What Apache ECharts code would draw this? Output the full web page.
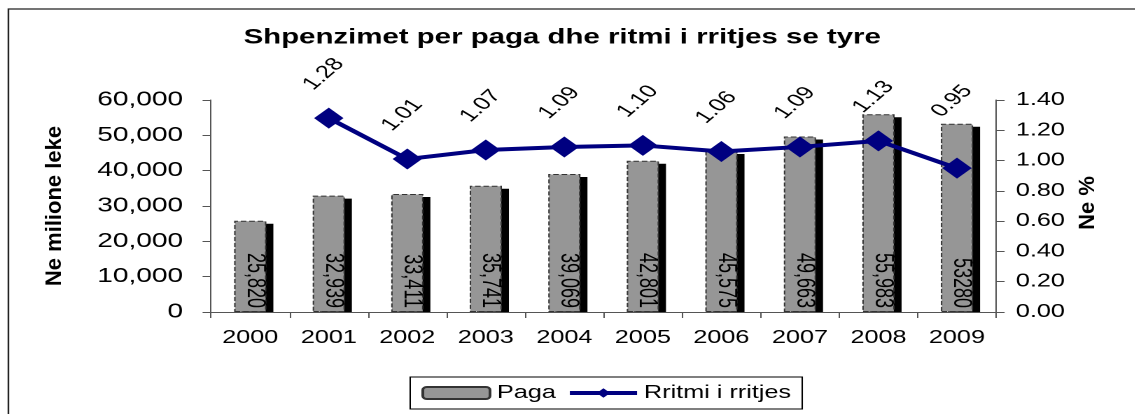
<!DOCTYPE html>
<html>
<head>
<meta charset="utf-8">
<script src="https://cdn.jsdelivr.net/npm/echarts@6/dist/echarts.min.js"></script>
<style>
    html, body { margin: 0; padding: 0; background: #fff; overflow: hidden; }
    /* the source picture is stretched sideways, so the chart is drawn narrow and widened */
    #main { width: 811.4px; height: 414px; transform: scaleX(1.4); transform-origin: 0 0; }
</style>
</head>
<body>
<div id="main"></div>
<script>
    var years = ['2000', '2001', '2002', '2003', '2004', '2005', '2006', '2007', '2008', '2009'];
    var paga = [25820, 32939, 33411, 35741, 39069, 42801, 45575, 49663, 55983, 53280];
    var pagaLabels = ['25,820', '32,939', '33,411', '35,741', '39,069', '42,801', '45,575', '49,663', '55,983', '53280'];
    var ritmi = [null, 1.28, 1.01, 1.07, 1.09, 1.10, 1.06, 1.09, 1.13, 0.95];

    var FONT = '"Liberation Sans", Arial, sans-serif';
    var SQ = 1 / 1.4;
    var BAR_W = 23;

    var myChart = echarts.init(document.getElementById('main'), null, {devicePixelRatio: 2});

    //label offset is given in the rotated frame, so turn the wanted screen shift back
    function rotOffset(dx, dy, deg){
        var a = deg * Math.PI / 180;
        return [dx * Math.cos(a) - dy * Math.sin(a), dx * Math.sin(a) + dy * Math.cos(a)];
    }
    var LINE_ROT = 50;

    //ritmi data, the last label sits higher
    var ritmiData = ritmi.map(function(v, i){
        if(i == 9){
            return {value: v, label: {offset: rotOffset(-3.6, -67, LINE_ROT)}};
        }
        return v;
    });

    //black drop shadow of each bar, shifted right and down, stops at the axis
    function renderShadow(params, api){
        var top = api.coord([api.value(0), api.value(1)]);
        var base = api.coord([api.value(0), 0]);
        return {
            type: 'rect',
            shape: {
                x: top[0] - BAR_W / 2 + 5,
                y: top[1] + 3,
                width: BAR_W,
                height: base[1] - top[1] - 3
            },
            style: { fill: '#000' }
        };
    }

    var option = {
        backgroundColor: '#fff',
        textStyle: { fontFamily: FONT, color: '#000' },
        title: {
            text: 'Shpenzimet per paga dhe ritmi i rritjes se tyre',
            left: 174,
            top: 27,
            padding: 0,
            textStyle: { fontFamily: FONT, fontSize: 21, fontWeight: 'bold', color: '#000' }
        },
        legend: {
            left: 293,
            top: 377,
            padding: [7, 8],
            borderColor: '#000',
            borderWidth: 1,
            itemWidth: 48,
            itemHeight: 12,
            itemGap: 8,
            textStyle: { fontFamily: FONT, fontSize: 18, color: '#000' },
            data: [
                {name: 'Paga'},
                {name: 'Rritmi i rritjes', lineStyle: {width: 4, color: '#000080'}}
            ]
        },
        grid: { left: 150.7, right: 99.4, top: 100, bottom: 102 },
        xAxis: {
            type: 'category',
            data: years,
            axisLine: { lineStyle: { color: '#555', width: 1 } },
            axisTick: { show: true, length: 6, lineStyle: { color: '#555' } },
            axisLabel: { fontFamily: FONT, fontSize: 18, color: '#000', margin: 17 }
        },
        yAxis: [
            {
                type: 'value',
                min: 0,
                max: 60000,
                interval: 10000,
                splitLine: { show: false },
                axisLine: { show: true, lineStyle: { color: '#555' } },
                axisTick: { show: true, length: 6, lineStyle: { color: '#555' } },
                axisLabel: {
                    fontFamily: FONT, fontSize: 20, color: '#000', margin: 20,
                    formatter: function(v){ return v.toLocaleString('en-US'); }
                }
            },
            {
                type: 'value',
                min: 0,
                max: 1.4,
                interval: 0.2,
                splitLine: { show: false },
                axisLine: { show: true, lineStyle: { color: '#555' } },
                axisTick: { show: true, length: 6, lineStyle: { color: '#555' } },
                axisLabel: {
                    fontFamily: FONT, fontSize: 18, color: '#000', margin: 14,
                    formatter: function(v){ return v.toFixed(2); }
                }
            }
        ],
        graphic: [
            {
                type: 'rect',
                shape: { x: 6, y: 9, width: 900, height: 420 },
                style: { fill: 'none', stroke: '#222', lineWidth: 1.2 },
                silent: true
            },
            {
                type: 'text',
                x: 39, y: 206,
                rotation: Math.PI / 2,
                scaleY: SQ,
                style: {
                    text: 'Ne milione leke',
                    fontFamily: FONT, fontSize: 22, fontWeight: 'bold',
                    align: 'center', verticalAlign: 'middle', fill: '#000'
                }
            },
            {
                type: 'text',
                x: 777, y: 203,
                rotation: Math.PI / 2,
                scaleY: SQ,
                style: {
                    text: 'Ne %',
                    fontFamily: FONT, fontSize: 22, fontWeight: 'bold',
                    align: 'center', verticalAlign: 'middle', fill: '#000'
                }
            }
        ],
        series: [
            {
                name: 'shadow',
                type: 'custom',
                renderItem: renderShadow,
                encode: { x: 0, y: 1 },
                data: paga.map(function(v, i){ return [i, v]; }),
                silent: true,
                z: 1
            },
            {
                name: 'Paga',
                type: 'bar',
                data: paga,
                barWidth: BAR_W,
                itemStyle: {
                    color: '#969696',
                    borderColor: '#333',
                    borderWidth: 1,
                    borderType: 'dashed'
                },
                label: {
                    show: true,
                    position: 'insideBottom',
                    distance: 4,
                    rotate: -90,
                    align: 'right',
                    verticalAlign: 'middle',
                    offset: [0, -3],
                    fontFamily: FONT,
                    fontSize: 18,
                    color: '#000',
                    formatter: function(p){ return pagaLabels[p.dataIndex]; }
                },
                z: 2
            },
            {
                name: 'Rritmi i rritjes',
                type: 'line',
                yAxisIndex: 1,
                data: ritmiData,
                symbol: 'diamond',
                symbolSize: 21,
                lineStyle: { color: '#000080', width: 4 },
                itemStyle: { color: '#000080' },
                label: {
                    show: true,
                    position: 'inside',
                    rotate: LINE_ROT,
                    align: 'center',
                    verticalAlign: 'middle',
                    offset: rotOffset(-3.6, -44, LINE_ROT),
                    fontFamily: FONT,
                    fontSize: 18,
                    color: '#000',
                    formatter: function(p){ return p.value == null ? '' : Number(p.value).toFixed(2); }
                },
                z: 3
            }
        ]
    };
    myChart.setOption(option);
</script>
</body>
</html>
